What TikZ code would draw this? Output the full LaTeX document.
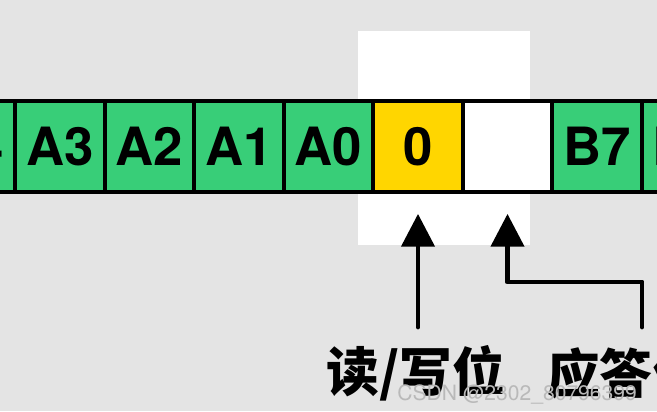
\documentclass[tikz,border=0pt]{standalone}
\usepackage{fontspec}
\setmainfont{TeX Gyre Heros}
\newfontfamily\cjk{Noto Sans CJK SC}
\usetikzlibrary{positioning,arrows.meta}
\definecolor{bggray}{HTML}{E4E4E4}
\definecolor{bitgreen}{HTML}{38CE78}
\definecolor{bityellow}{HTML}{FFD600}

\begin{document}
\begin{tikzpicture}[x=0.03cm, y=0.03cm,
    bit/.style={rectangle, draw=black, line width=3.2pt, fill=bitgreen, minimum width=2.685cm, minimum height=2.73cm, inner sep=0pt, font=\fontsize{45}{45}\selectfont\bfseries},
    lbl/.style={font=\cjk\fontsize{45}{45}\selectfont\bfseries, inner sep=0pt},
    arr/.style={-{Triangle[width=0.98cm,length=0.98cm]}, line width=4.2pt, line cap=round, line join=round}]
    \useasboundingbox (0,0) rectangle (657,411);
    \clip (0,0) rectangle (657,411);
    \fill[bggray] (0,0) rectangle (657,411);
    % white window round the two bits
    \fill[white] (358,166) rectangle (530,380);

    \node[bit] (a4) at (-29.5,264.5) {A4};
    \node[bit] (a3) at (60,264.5) {A3};
    \node[bit] (a2) at (149.5,264.5) {A2};
    \node[bit] (a1) at (239,264.5) {A1};
    \node[bit] (a0) at (328.5,264.5) {A0};
    \node[bit, fill=bityellow] (zero) at (418,264.5) {0};
    \node[bit, fill=white] (blank) at (507.5,264.5) {};
    \node[bit] (b7) at (597,264.5) {B7};
    \node[bit] (b6) at (686.5,264.5) {B6};

    \node[lbl] (rw) at (416,38) {读/写位};
    \node[lbl, anchor=west] (ack) at (547,38) {应答位};
    \coordinate (rwtail) at (418,84);
    \coordinate (acktail) at (642,84);

    \draw[arr] (rwtail) -- ([yshift=-0.6cm]zero.south);
    \draw[arr] (acktail) -- ++(0,45) -| ([yshift=-0.6cm]blank.south);

    \node[font=\fontsize{18}{18}\selectfont, text=gray!55, anchor=east] (mark) at (641,17) {CSDN @2302\_80796399};
\end{tikzpicture}
\end{document}
